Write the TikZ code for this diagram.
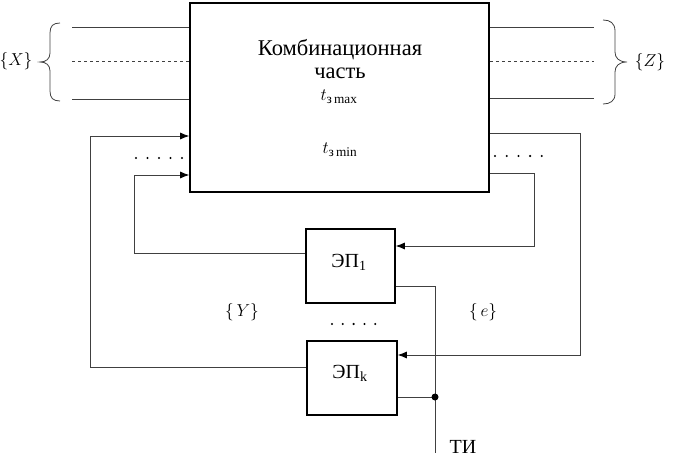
\documentclass[tikz,border=0pt]{standalone}
\usepackage{amsmath}
\usepackage{fontspec}
\setmainfont{Liberation Serif}
\newfontfamily\rs{Liberation Serif}
\usetikzlibrary{arrows.meta}
\tikzset{
  blk/.style={draw,line width=1.6pt,inner sep=0pt},
  conn/.style={draw=black!75,line width=0.8pt},
  arr/.style={conn,-{Latex[length=9pt,width=7pt,black]}},
  brc/.style={draw=black!75,line width=0.8pt},
  dotc/.style={fill,circle,inner sep=0pt,minimum size=2.3pt},
}
\begin{document}
\begin{tikzpicture}[x=1pt,y=-1pt]
\useasboundingbox (0,0) rectangle (680,460);
% main block
\node[blk,minimum width=299pt,minimum height=189pt] (main) at (339.5,97.5) {};
\node[font=\rs\fontsize{22.5}{23}\selectfont,align=center] (title) at (340,59) {Комбинационная\\часть};
\node[font=\rs\fontsize{19}{20}\selectfont,anchor=west] (tmax) at (317,97) {$t_{\text{\rs з\,max}}$};
\node[font=\rs\fontsize{19}{20}\selectfont,anchor=west] (tmin) at (319,150) {$t_{\text{\rs з\,min}}$};
% EP blocks
\node[blk,minimum width=89pt,minimum height=74pt] (ep1) at (350.5,266) {};
\node[font=\rs\fontsize{20}{20}\selectfont] (ep1t) at (349,262) {ЭП\textsubscript{1}};
\node[blk,minimum width=90pt,minimum height=74pt] (epk) at (352,378) {};
\node[font=\rs\fontsize{20}{20}\selectfont] (epkt) at (350,373) {ЭП\textsubscript{k}};
% inputs X
\coordinate (xa) at (72,27);
\coordinate (xb) at (72,61);
\coordinate (xc) at (72,99);
\draw[conn] (xa) -- (xa -| main.west);
\draw[conn,dashed] (xb) -- (xb -| main.west);
\draw[conn] (xc) -- (xc -| main.west);
\draw[brc] (60,23) .. controls (53,23) and (50,26) .. (50,33) -- (50,53)
  .. controls (50,59) and (46,62) .. (40,62) .. controls (46,62) and (50,65) .. (50,71)
  -- (50,91) .. controls (50,98) and (53,101) .. (60,101);
\node[font=\fontsize{18}{20}\selectfont] (xl) at (16,61) {$\{X\}$};
% outputs Z
\coordinate (za) at (594,27);
\coordinate (zb) at (594,61);
\coordinate (zc) at (594,98);
\draw[conn] (za -| main.east) -- (za);
\draw[conn,dashed] (zb -| main.east) -- (zb);
\draw[conn] (zc -| main.east) -- (zc);
\draw[brc] (603,20) .. controls (610,20) and (615,23) .. (615,31) -- (615,52)
  .. controls (615,58) and (619,62) .. (627,62) .. controls (619,62) and (615,66) .. (615,72)
  -- (615,94) .. controls (615,101) and (610,104) .. (603,104);
\node[font=\fontsize{18}{20}\selectfont] (zl) at (650,62) {$\{Z\}$};
% feedback Y
\coordinate (yin) at (134,175);
\coordinate (yout) at (90,136);
\draw[arr] ([yshift=13pt]ep1.west) -| (yin) -- (yin -| main.west);
\draw[arr] ([yshift=11pt]epk.west) -| (yout) -- (yout -| main.west);
% excitation e
\coordinate (ein) at (534,173);
\coordinate (eout) at (580,133);
\draw[arr] (ein -| main.east) -- (ein) |- ([yshift=20pt]ep1.east);
\draw[arr] (eout -| main.east) -- (eout) |- ([yshift=23pt]epk.east);
% clock
\coordinate (tc) at (435,453);
\coordinate (tj) at (435,397);
\draw[conn] ([yshift=-20pt]ep1.east) -| (tc);
\draw[conn] ([yshift=-19pt]epk.east) -- (tj);
\node[fill,circle,inner sep=0pt,minimum size=7pt] (jd) at (tj) {};
\node[font=\rs\fontsize{20}{20}\selectfont,anchor=west] (ti) at (446,447) {ТИ};
% labels
\node[font=\fontsize{18}{20}\selectfont] (yl) at (242,312) {$\{\,Y\}$};
\node[font=\fontsize{18}{20}\selectfont] (el) at (483,312) {$\{\,e\}$};
% dots
\foreach \i in {0,...,4} {
  \node[dotc] (dl\i) at (136+11.5*\i,158) {};
  \node[dotc] (dr\i) at (495+11.7*\i,156) {};
  \node[dotc] (dm\i) at (332+10.8*\i,324) {};
}
\end{tikzpicture}
\end{document}
